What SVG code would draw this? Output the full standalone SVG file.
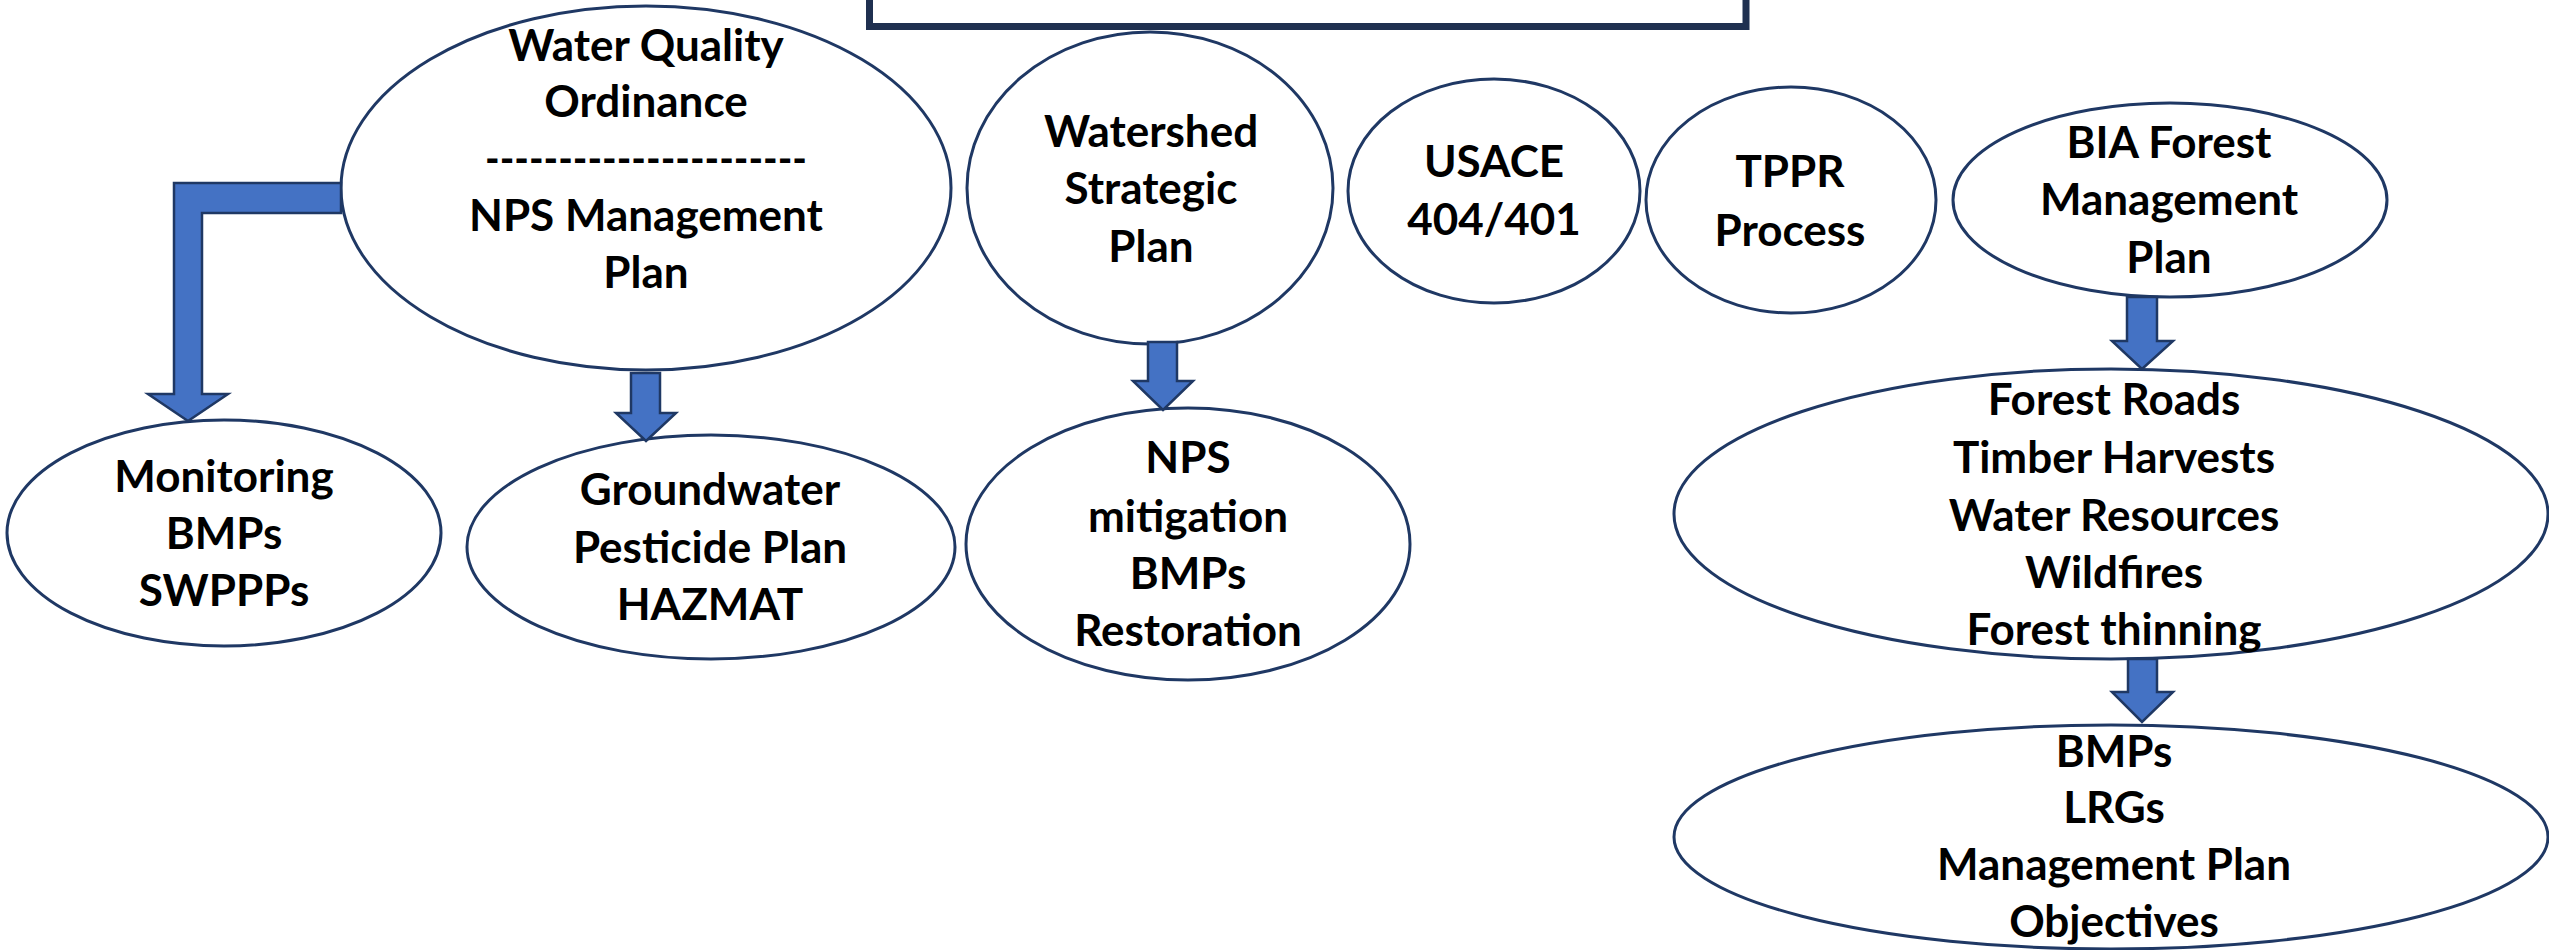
<svg xmlns="http://www.w3.org/2000/svg" width="2549" height="950" viewBox="0 0 2549 950">
<style>
.node ellipse{fill:#fff;stroke:#1F3864;stroke-width:3}
.node text{font-family:Lato,"Liberation Sans",sans-serif;font-weight:bold;font-size:44px;fill:#000;text-anchor:middle}
.arrow{fill:#4472C4;stroke:#1F3864;stroke-width:2.5;stroke-linejoin:miter}
</style>
<rect x="869.5" y="-30" width="876.5" height="56.5" fill="#fff" stroke="#1F3050" stroke-width="7"/>
<g id="n-wqo" class="node">
<ellipse cx="646" cy="188" rx="305" ry="182"/>
<text x="646" y="61">Water Quality</text>
<text x="646" y="117">Ordinance</text>
<text x="646" y="174" textLength="322" lengthAdjust="spacingAndGlyphs">----------------------</text>
<text x="646" y="231">NPS Management</text>
<text x="646" y="288">Plan</text>
</g>
<g id="n-monitoring" class="node">
<ellipse cx="224" cy="533" rx="217" ry="113"/>
<text x="224" y="492">Monitoring</text>
<text x="224" y="549">BMPs</text>
<text x="224" y="606">SWPPPs</text>
</g>
<g id="n-groundwater" class="node">
<ellipse cx="711" cy="547" rx="244" ry="112"/>
<text x="710" y="505">Groundwater</text>
<text x="710" y="563">Pesticide Plan</text>
<text x="710" y="620">HAZMAT</text>
</g>
<g id="n-watershed" class="node">
<ellipse cx="1150" cy="188" rx="183" ry="156"/>
<text x="1151" y="147">Watershed</text>
<text x="1151" y="204">Strategic</text>
<text x="1151" y="262">Plan</text>
</g>
<g id="n-npsmit" class="node">
<ellipse cx="1188" cy="544" rx="222" ry="136"/>
<text x="1188" y="473">NPS</text>
<text x="1188" y="532">mitigation</text>
<text x="1188" y="589">BMPs</text>
<text x="1188" y="646">Restoration</text>
</g>
<g id="n-usace" class="node">
<ellipse cx="1494" cy="191" rx="146" ry="112"/>
<text x="1494" y="177">USACE</text>
<text x="1494" y="235">404/401</text>
</g>
<g id="n-tppr" class="node">
<ellipse cx="1791" cy="200" rx="145" ry="113"/>
<text x="1790" y="187">TPPR</text>
<text x="1790" y="246">Process</text>
</g>
<g id="n-bia" class="node">
<ellipse cx="2170" cy="200" rx="217" ry="97"/>
<text x="2169" y="158">BIA Forest</text>
<text x="2169" y="215">Management</text>
<text x="2169" y="273">Plan</text>
</g>
<g id="n-forest" class="node">
<ellipse cx="2111" cy="514" rx="437" ry="145"/>
<text x="2114" y="415">Forest Roads</text>
<text x="2114" y="473">Timber Harvests</text>
<text x="2114" y="531">Water Resources</text>
<text x="2114" y="588">Wildfires</text>
<text x="2114" y="645">Forest thinning</text>
</g>
<g id="n-bmps" class="node">
<ellipse cx="2111" cy="837" rx="437" ry="112"/>
<text x="2114" y="767">BMPs</text>
<text x="2114" y="823">LRGs</text>
<text x="2114" y="880">Management Plan</text>
<text x="2114" y="937">Objectives</text>
</g>
<g id="connectors">
<polygon class="arrow" points="341,183 174,183 174,394 148,394 188,421 228,394 202,394 202,213 341,213"/>
<polygon class="arrow" points="631,373 660,373 660,413 676,413 646,441 616,413 631,413"/>
<polygon class="arrow" points="1148,342 1177,342 1177,381 1193,381 1163,410 1133,381 1148,381"/>
<polygon class="arrow" points="2127,297 2157,297 2157,341 2173,341 2142,369 2112,341 2127,341"/>
<polygon class="arrow" points="2128,659 2157,659 2157,692 2173,692 2142,722 2112,692 2128,692"/>
</g>
</svg>
